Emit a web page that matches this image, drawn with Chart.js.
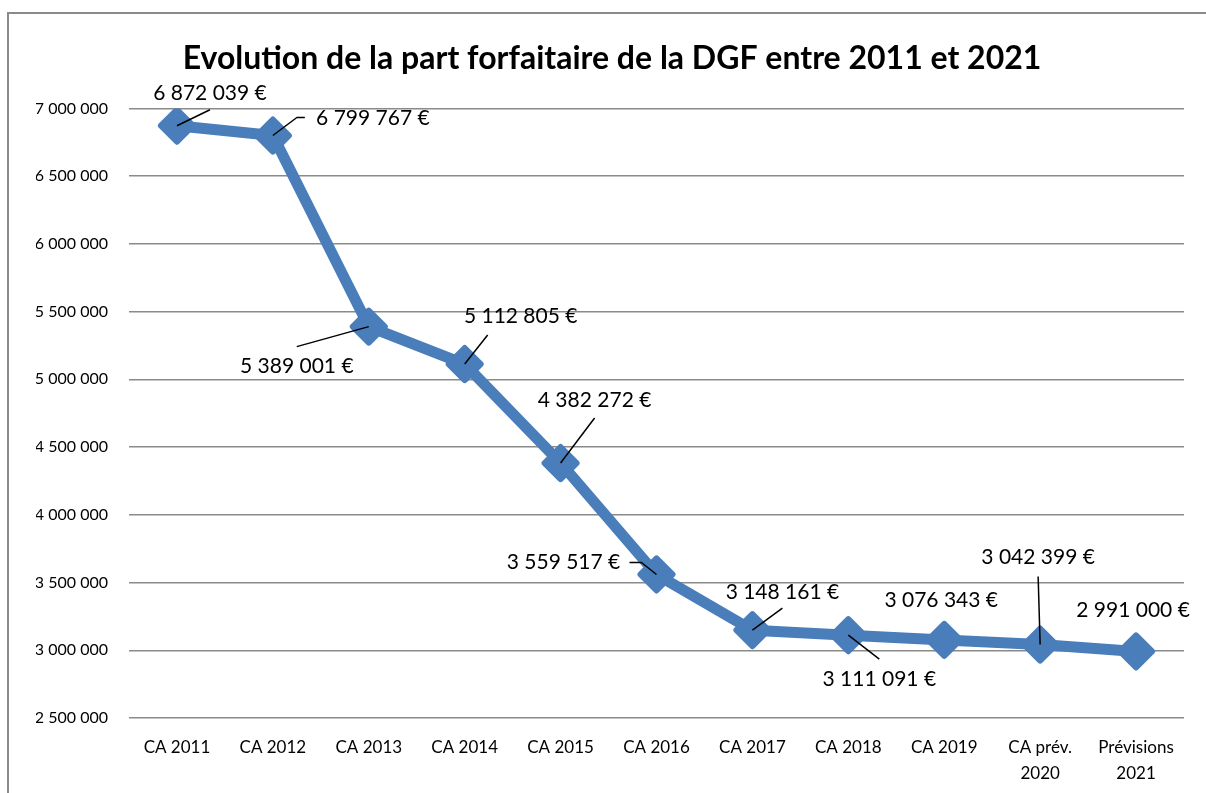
<!DOCTYPE html>
<html>
<head>
<meta charset="utf-8">
<script src="https://cdn.jsdelivr.net/npm/chart.js@4.4.1/dist/chart.umd.min.js"></script>
<style>
  html, body { margin: 0; padding: 0; background: #fff; overflow: hidden; }
  #frame { position: absolute; left: 7px; top: 12px; width: 1400px; height: 1000px; border: 2px solid #8a8a8a; }
  #wrap { position: absolute; left: 0; top: 0; width: 1206px; height: 793px; }
</style>
</head>
<body>
<div id="frame"></div>
<div id="wrap"><canvas id="dgf-chart" width="1206" height="793"></canvas></div>
<script>
var categories = ['CA 2011', 'CA 2012', 'CA 2013', 'CA 2014', 'CA 2015', 'CA 2016',
  'CA 2017', 'CA 2018', 'CA 2019', ['CA prév.', '2020'], ['Prévisions', '2021']];
var partForfaitaire = [6872039, 6799767, 5389001, 5112805, 4382272, 3559517,
  3148161, 3111091, 3076343, 3042399, 2991000];
var yMin = 2500000;
var yMax = 7000000;
var yStep = 500000;

var FONT = 'Lato, "Open Sans", sans-serif';

function spaced(v) {
  return String(Math.round(v)).replace(/\B(?=(\d{3})+(?!\d))/g, ' ');
}

// where each value label sits, relative to its marker (text centre + leader line)
var placements = [
  { dx: 33, dy: -33, line: [[33, -16]] },
  { dx: 100, dy: -17, line: [[24, -18], [32, -18]] },
  { dx: -72, dy: 40, line: [[-72, 20]] },
  { dx: 56, dy: -48, line: [[23, -29]] },
  { dx: 34, dy: -63, line: [[34, -45]] },
  { dx: -93, dy: -12, line: [[-15, -12], [-27, -12]] },
  { dx: 30, dy: -38, line: [[30, -22]] },
  { dx: 31, dy: 44, line: [[31, 24]] },
  { dx: -3, dy: -40, line: null },
  { dx: -2, dy: -87, line: [[-2, -68]] },
  { dx: -3, dy: -41, line: null }
];

var valueLabels = {
  id: 'valueLabels',
  beforeDatasetDraw: function (chart) {
    chart.ctx.lineJoin = 'round';
  },
  afterDatasetsDraw: function (chart) {
    var ctx = chart.ctx;
    var meta = chart.getDatasetMeta(0);
    ctx.save();
    ctx.strokeStyle = '#000';
    ctx.lineWidth = 1.5;
    ctx.fillStyle = '#000';
    ctx.font = '21px ' + FONT;
    ctx.textAlign = 'center';
    ctx.textBaseline = 'middle';
    meta.data.forEach(function (pt, i) {
      var p = placements[i];
      if (p.line) {
        ctx.beginPath();
        ctx.moveTo(pt.x, pt.y);
        p.line.forEach(function (q) { ctx.lineTo(pt.x + q[0], pt.y + q[1]); });
        ctx.stroke();
      }
      ctx.fillText(spaced(partForfaitaire[i]) + ' €', pt.x + p.dx, pt.y + p.dy);
    });
    ctx.restore();
  }
};

var ctx = document.getElementById('dgf-chart').getContext('2d');
new Chart(ctx, {
  type: 'line',
  data: {
    labels: categories,
    datasets: [{
      label: 'Part forfaitaire',
      data: partForfaitaire,
      borderColor: '#4a7ebb',
      backgroundColor: '#4a7ebb',
      borderWidth: 11,
      borderJoinStyle: 'round',
      pointStyle: 'rectRot',
      pointRadius: 16,
      pointBorderWidth: 6,
      pointBackgroundColor: '#4a7ebb',
      pointBorderColor: '#4a7ebb',
      tension: 0
    }]
  },
  options: {
    responsive: false,
    animation: false,
    layout: { padding: { left: 36, right: 18, top: 0, bottom: 0 } },
    plugins: {
      legend: { display: false },
      tooltip: { enabled: false },
      title: {
        display: true,
        text: 'Evolution de la part forfaitaire de la DGF entre 2011 et 2021',
        color: '#000',
        font: { family: FONT, size: 32, weight: 'bold', lineHeight: 1.2 },
        padding: { top: 39, bottom: 31 }
      }
    },
    scales: {
      x: {
        offset: true,
        grid: { display: false, drawTicks: false },
        border: { display: false },
        ticks: {
          color: '#000',
          padding: 17,
          maxRotation: 0,
          autoSkip: false,
          font: { family: FONT, size: 17, lineHeight: 1.5 }
        },
        afterFit: function (scale) { scale.height = 75; }
      },
      y: {
        min: yMin,
        max: yMax,
        grid: { color: '#8a8a8a', lineWidth: 1.5, drawTicks: false },
        border: { display: false },
        ticks: {
          stepSize: yStep,
          color: '#000',
          padding: 21,
          font: { family: FONT, size: 16 },
          callback: function (v) { return spaced(v); }
        },
        afterFit: function (scale) { scale.width = 93; }
      }
    }
  },
  plugins: [valueLabels]
});
</script>
</body>
</html>
